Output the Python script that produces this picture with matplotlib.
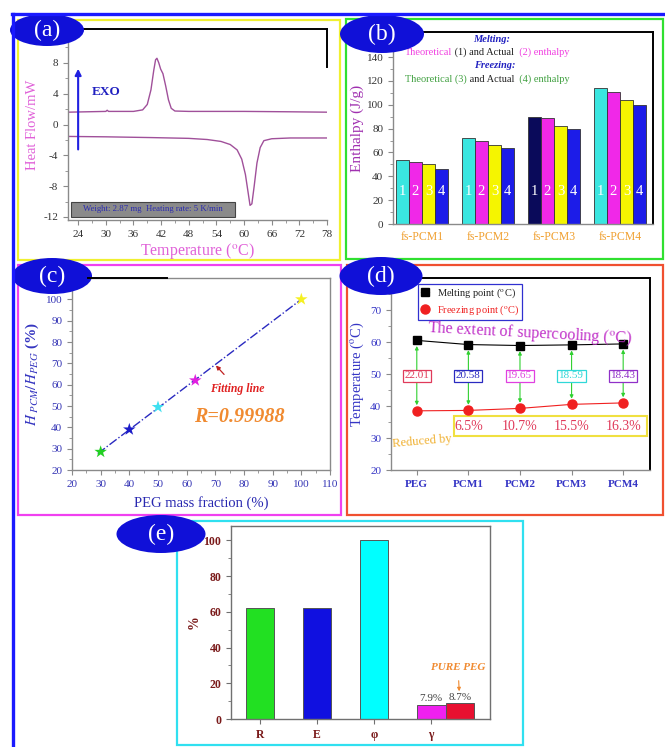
import numpy as np
import matplotlib
matplotlib.use("Agg")
import matplotlib.pyplot as plt
from matplotlib.patches import Ellipse, Rectangle
from matplotlib.ticker import MultipleLocator

plt.rcParams['font.family'] = ['Liberation Serif', 'DejaVu Serif']
plt.rcParams['mathtext.fontset'] = 'stix'
plt.rcParams['axes.unicode_minus'] = False

W, H = 665, 747

# (a) DSC traces
cool_T = [21.8, 30, 30.3, 30.6, 36, 38, 39, 39.8, 40.4, 40.8, 41.1, 41.5, 41.9,
          42.4, 43.0, 43.6, 44.2, 45, 48, 60, 70, 78]
cool_hf = [1.6, 1.7, 1.85, 1.7, 1.7, 1.9, 2.6, 4.5, 7.0, 8.4, 8.6, 8.0, 7.2,
           6.6, 5.0, 3.2, 2.1, 1.75, 1.7, 1.7, 1.65, 1.6]
heat_T = [21.8, 30, 40, 48, 52, 55, 57, 58.5, 59.5, 60.3, 60.8, 61.3, 61.7,
          62.2, 62.8, 63.5, 64.3, 66, 70, 78]
heat_hf = [-1.55, -1.6, -1.7, -1.8, -1.95, -2.2, -2.6, -3.3, -4.5, -6.5, -8.5,
           -10.5, -10.3, -8.0, -5.0, -3.0, -2.1, -1.85, -1.75, -1.75]

# (b) enthalpies
samples = ['fs-PCM1', 'fs-PCM2', 'fs-PCM3', 'fs-PCM4']
melt_theory = [53.5, 72, 90, 114]
melt_actual = [52, 70, 88.5, 111]
freeze_theory = [50, 66, 82, 104]
freeze_actual = [46.5, 64, 80, 100]

# (c) enthalpy ratio vs PEG content
peg_fraction = [30, 40, 50, 63, 100]
h_ratio = [28.5, 39, 49.5, 62, 100]
star_colors = ['#22d022', '#1c1cc8', '#3ee0f0', '#e020e0', '#f5f020']

# (d) phase change temperatures
names_d = ['PEG', 'PCM1', 'PCM2', 'PCM3', 'PCM4']
melting_pt = [60.5, 59.2, 58.9, 59.1, 59.4]
supercooling = [22.01, 20.58, 19.65, 18.59, 18.43]
sc_colors = ['#e03a5a', '#2a2ac0', '#e040e0', '#30d8d8', '#9030c8']

# (e) evaluation parameters
params = ['R', 'E', 'φ', 'γ']
param_vals = [62, 62, 100, 7.9]
param_colors = ['#22e022', '#1010e0', '#00ffff', '#f020f0']
pure_peg_gamma = 8.7

fig = plt.figure(figsize=(W / 100, H / 100), dpi=100)


def px_axes(x0, y0, x1, y1):
    return fig.add_axes([x0 / W, 1 - y1 / H, (x1 - x0) / W, (y1 - y0) / H])


def style_spines(ax, grey='#8a8a8a', dark=('top', 'right')):
    for side, sp in ax.spines.items():
        if side in dark:
            sp.set_color('black')
            sp.set_linewidth(1.4)
        else:
            sp.set_color(grey)
            sp.set_linewidth(1.0)
    ax.tick_params(which='both', color=grey)


# ---------------- (a) ----------------
ax = px_axes(68, 29, 327, 220)
ax.plot(cool_T, cool_hf, color='#a0509a', lw=1)
ax.plot(heat_T, heat_hf, color='#a0509a', lw=1)
ax.set_xlim(21.8, 78)
ax.set_ylim(-12.4, 12.4)
ax.set_xticks(range(24, 79, 6))
ax.set_yticks(range(-12, 9, 4))
ax.xaxis.set_minor_locator(MultipleLocator(3))
ax.yaxis.set_minor_locator(MultipleLocator(2))
style_spines(ax)
ax.spines['right'].set_bounds(7.5, 12.4)
ax.tick_params(labelsize=8, labelcolor='#333333')
ax.set_ylabel('Heat Flow/mW', color='#e060d8', fontsize=10.5, labelpad=3)
ax.set_xlabel('Temperature ($^{\\mathrm{o}}$C)', color='#e060d8', fontsize=11.5, labelpad=2)
ax.annotate('', xy=(24, 7.6), xytext=(24, -3.6),
            arrowprops=dict(arrowstyle='-|>', color='#2020e0', lw=1.5, mutation_scale=9))
ax.text(27, 4.2, 'EXO', color='#2020c0', fontweight='bold', fontsize=9.5, va='center')
ax.add_patch(Rectangle((22.5, -12.0), 35.6, 1.95, facecolor='#8a8a8a',
                       edgecolor='#444444', lw=0.8, zorder=3))
ax.text(40.3, -11.0, 'Weight: 2.87 mg  Heating rate: 5 K/min', color='#2a2ab0',
        fontsize=6.3, ha='center', va='center', zorder=4)

# ---------------- (b) ----------------
ax = px_axes(393, 32, 653, 224)
x = np.arange(len(samples))
series = [melt_theory, melt_actual, freeze_theory, freeze_actual]
first_colors = ['#3ae6e0', '#3ae6e0', '#0a0a5a', '#3ae6e0']
colors_b = [first_colors, '#f028e8', '#f5f500', '#1c1ce8']
offsets = [-0.3, -0.1, 0.1, 0.3]
for k, (vals, col, off) in enumerate(zip(series, colors_b, offsets)):
    ax.bar(x + off, vals, width=0.2, color=col, edgecolor='#333333', lw=0.6)
    for xi in x:
        ax.text(xi + off, 27, str(k + 1), color='white', ha='center', va='center', fontsize=10.5)
ax.set_xlim(-0.44, 3.5)
ax.set_ylim(0, 161)
ax.set_yticks(range(0, 141, 20))
ax.yaxis.set_minor_locator(MultipleLocator(10))
ax.set_xticks(x)
ax.set_xticklabels(samples)
style_spines(ax)
ax.tick_params(axis='y', labelsize=8, labelcolor='#333333')
ax.tick_params(axis='x', labelsize=8.5, labelcolor='#f0a030', length=0, pad=5)
ax.set_ylabel('Enthalpy (J/g)', color='#a030b0', fontsize=11, labelpad=2)


def color_line(ax, x0, y0, parts, size):
    t = ax.text(x0, y0, parts[0][0], color=parts[0][1], fontsize=size,
                transform=ax.transAxes, va='bottom')
    for s, c in parts[1:]:
        t = ax.annotate(s, xy=(1, 0), xycoords=t, color=c, fontsize=size, va='bottom')


ax.text(0.381, 0.962, 'Melting:', transform=ax.transAxes, color='#2020c0',
        fontsize=7.5, fontweight='bold', fontstyle='italic', ha='center', va='center')
color_line(ax, 0.046, 0.868, [('Theoretical', '#f040e0'), (' (1) and Actual', '#222222'),
                              ('  (2) enthalpy', '#f040e0')], 7.5)
ax.text(0.392, 0.823, 'Freezing:', transform=ax.transAxes, color='#2020c0',
        fontsize=7.5, fontweight='bold', fontstyle='italic', ha='center', va='center')
color_line(ax, 0.046, 0.728, [('Theoretical (3)', '#40a040'), (' and Actual', '#222222'),
                              ('  (4) enthalpy', '#40a040')], 7.5)

# ---------------- (c) ----------------
ax = px_axes(72, 278, 330, 470)
slope, icpt = np.polyfit(peg_fraction, h_ratio, 1)
xf = np.array([29, 100])
ax.plot(xf, slope * xf + icpt, color='#2a2ac0', lw=1, ls='-.')
ax.scatter(peg_fraction, h_ratio, marker='*', s=90, c=star_colors, zorder=3, linewidths=0)
ax.set_xlim(20, 110)
ax.set_ylim(20, 110)
ax.set_xticks(range(20, 111, 10))
ax.set_yticks(range(20, 101, 10))
ax.xaxis.set_minor_locator(MultipleLocator(5))
ax.yaxis.set_minor_locator(MultipleLocator(5))
style_spines(ax, dark=())
ax.tick_params(labelsize=8, labelcolor='#3535b5')
ax.set_xlabel('PEG mass fraction (%)', color='#2828b0', fontsize=10.5, labelpad=5)
ax.set_ylabel('$\\mathit{H}_{\\ PCM}/\\mathit{H}_{PEG}$ (%)', color='#3535c0',
              fontsize=11, fontweight='bold', labelpad=3)
ax.annotate('Fitting line', xy=(70.2, 69), xytext=(77.8, 57.8), color='#e02020',
            fontsize=8.5, fontweight='bold', fontstyle='italic', ha='center', va='center',
            arrowprops=dict(arrowstyle='-|>', color='#c02020', lw=0.9,
                            mutation_scale=6, shrinkA=6, shrinkB=0))
ax.text(78.5, 44.8, 'R=0.99988', color='#f08a30', fontsize=14.5, fontweight='bold',
        fontstyle='italic', ha='center', va='center')

# ---------------- (d) ----------------
ax = px_axes(391, 278, 650, 470)
xd = np.arange(len(names_d))
freezing_pt = np.array(melting_pt) - np.array(supercooling)
ax.plot(xd, melting_pt, 's-', color='black', ms=6, lw=0.8, label='Melting point ($^{\\mathrm{o}}$C)')
ax.plot(xd, freezing_pt, 'o-', color='#f02020', ms=6.5, lw=0.8,
        label='Freezing point ($^{\\mathrm{o}}$C)')
for i in xd:
    ax.annotate('', xy=(i, melting_pt[i]), xytext=(i, freezing_pt[i]),
                arrowprops=dict(arrowstyle='<|-|>', color='#30d030', lw=0.8,
                                mutation_scale=5, shrinkA=4, shrinkB=4))
    ax.text(i, 49.4, f'{supercooling[i]:.2f}', color=sc_colors[i], ha='center', va='center',
            fontsize=8, bbox=dict(boxstyle='square,pad=0.15', fc='white', ec=sc_colors[i], lw=0.9))
reduction = [(supercooling[0] - s) / supercooling[0] * 100 for s in supercooling[1:]]
for i, r in zip(xd[1:], reduction):
    ax.text(i, 33.7, f'{r:.1f}%', color='#e03a5a', fontsize=10, ha='center', va='center')
ax.add_patch(Rectangle((0.72, 30.6), 3.75, 6.3, fill=False, ec='#f0e040', lw=1.5))
ax.text(0.1, 28.8, 'Reduced by', color='#f0b030', fontsize=9, rotation=5,
        ha='center', va='center')
ax.text(2.2, 62.6, 'The extent of supercooling ($^{\\mathrm{o}}$C)', color='#c030c8',
        fontsize=11.5, rotation=-3, ha='center', va='center', zorder=6)
ax.set_xlim(-0.5, 4.52)
ax.set_ylim(20, 80)
ax.set_xticks(xd)
ax.set_xticklabels(names_d, fontweight='bold')
ax.set_yticks(range(20, 71, 10))
ax.yaxis.set_minor_locator(MultipleLocator(5))
style_spines(ax)
ax.tick_params(labelsize=8, labelcolor='#3535c5')
ax.set_ylabel('Temperature ($^{\\mathrm{o}}$C)', color='#3535c5', fontsize=10.5, labelpad=3)
leg = ax.legend(loc='upper left', bbox_to_anchor=(0.085, 0.995), fontsize=7.5,
                handlelength=0.8, borderpad=0.25, labelspacing=0.3, fancybox=False,
                edgecolor='#3030d0', framealpha=1)
leg.get_frame().set_linewidth(0.9)
for t, c in zip(leg.get_texts(), ['#222222', '#f02020']):
    t.set_color(c)

# ---------------- (e) ----------------
ax = px_axes(231, 526, 490, 719)
xe = np.arange(len(params))
ax.bar(xe, param_vals, width=0.5, color=param_colors, edgecolor='#555555', lw=0.7)
ax.bar(xe[-1] + 0.5, pure_peg_gamma, width=0.5, color='#e81030', edgecolor='#555555', lw=0.7)
ax.text(xe[-1], param_vals[-1] + 0.8, f'{param_vals[-1]}%', color='#444444', fontsize=8,
        ha='center', va='bottom')
ax.text(xe[-1] + 0.5, pure_peg_gamma + 0.8, f'{pure_peg_gamma}%', color='#444444', fontsize=8,
        ha='center', va='bottom')
ax.annotate('PURE PEG', xy=(xe[-1] + 0.49, 15.5), xytext=(xe[-1] + 0.47, 28.6),
            color='#f08a30', fontsize=8, fontweight='bold', fontstyle='italic',
            ha='center', va='center',
            arrowprops=dict(arrowstyle='-|>', color='#f08a30', lw=0.8,
                            mutation_scale=5, shrinkA=4, shrinkB=0))
ax.set_xlim(-0.51, 4.03)
ax.set_ylim(0, 108)
ax.set_xticks(xe)
ax.set_xticklabels(params)
ax.set_yticks(range(0, 101, 20))
ax.yaxis.set_minor_locator(MultipleLocator(10))
style_spines(ax, grey='#707070', dark=())
ax.tick_params(labelsize=8.5, labelcolor='#7a1a1a')
for lbl in ax.get_xticklabels() + ax.get_yticklabels():
    lbl.set_fontweight('bold')
ax.set_ylabel('%', color='#7a1a1a', fontsize=10, fontweight='bold', labelpad=2)

# ---------------- frames and panel tags ----------------
ov = fig.add_axes([0, 0, 1, 1], zorder=10)
ov.set_xlim(0, W)
ov.set_ylim(H, 0)
ov.set_axis_off()

ov.plot([12, W], [14, 14], color='#1a1aff', lw=2.4)
ov.plot([13, 13], [14, H], color='#1a1aff', lw=2.4)
frames = [((18, 20, 340, 260), '#f0f030'),
          ((346, 19, 663, 259), '#30e030'),
          ((18, 265, 341, 515), '#f040f0'),
          ((347, 265, 663, 515), '#f05030'),
          ((177, 521, 523, 745), '#30e0f0')]
for (x0, y0, x1, y1), c in frames:
    ov.add_patch(Rectangle((x0, y0), x1 - x0, y1 - y0, fill=False, ec=c, lw=1.6))
ov.plot([88, 167], [277.5, 277.5], color='black', lw=1.4)

tags = [('(a)', 47, 30, 74, 32), ('(b)', 382, 34, 84, 38), ('(c)', 52, 276, 80, 36),
        ('(d)', 381, 276, 83, 38), ('(e)', 161, 534, 89, 38)]
for s, cx, cy, w, h in tags:
    ov.add_patch(Ellipse((cx, cy), w, h, fc='#1010d8', ec='none'))
    ov.text(cx, cy, s, color='white', fontsize=17, ha='center', va='center')

fig.savefig('out.png', dpi=100)
